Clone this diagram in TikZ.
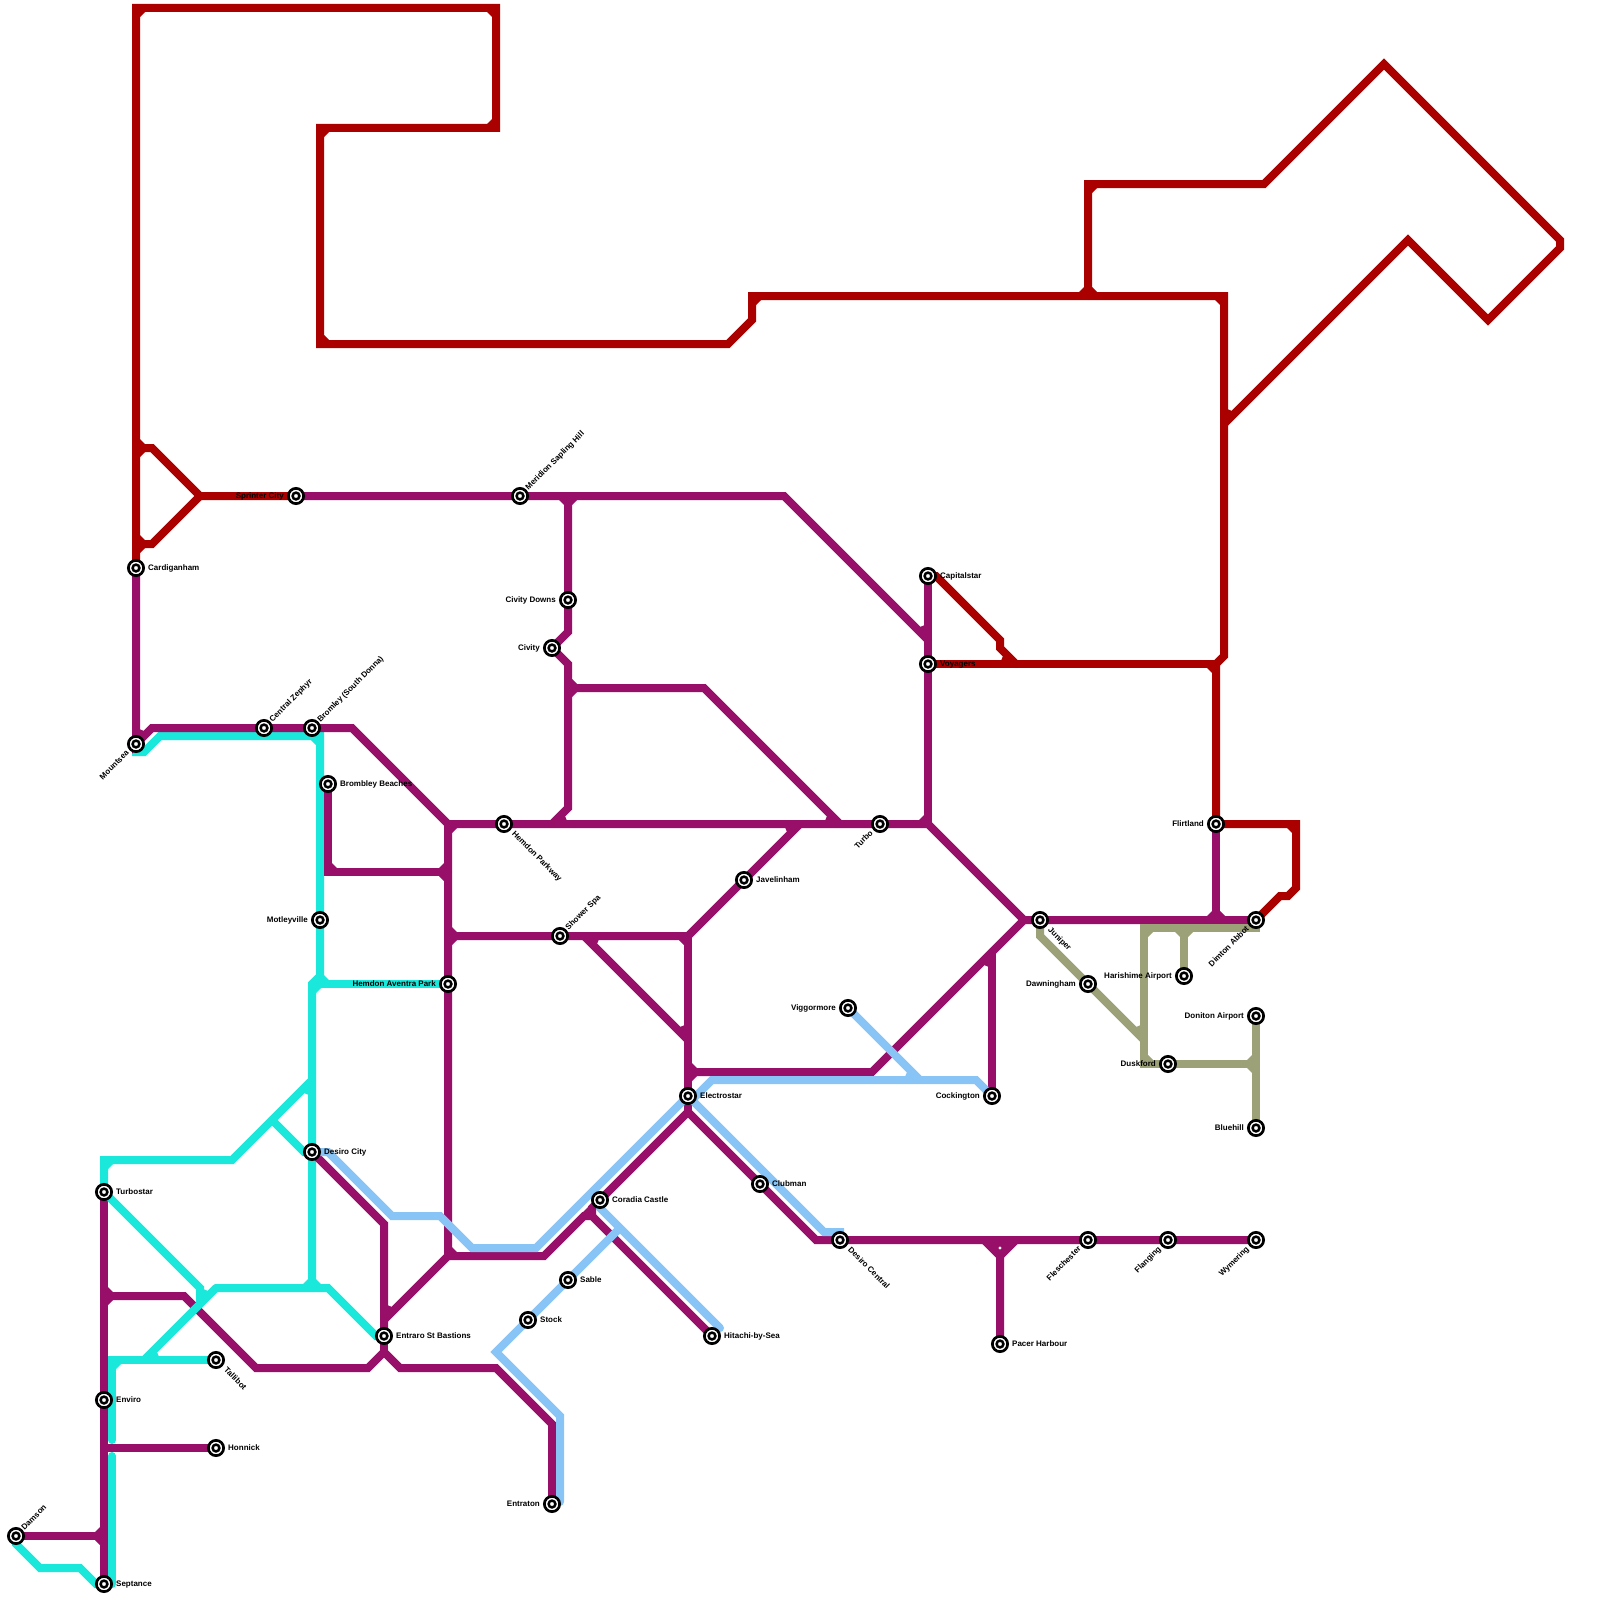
\documentclass[tikz,border=0pt]{standalone}
\usepackage{fontspec}
\setmainfont{Liberation Sans}
\usetikzlibrary{calc}
\definecolor{cRed}{HTML}{AA0000}
\definecolor{cPur}{HTML}{970F69}
\definecolor{cTeal}{HTML}{1AE8DA}
\definecolor{cBlue}{HTML}{88C4F5}
\definecolor{cKhaki}{HTML}{9CA177}
\pgfdeclarelayer{lines}
\pgfsetlayers{lines,main}
\tikzset{
  stn/.style={circle,draw=black,fill=white,line width=2.7pt,minimum size=15.3pt,inner sep=0pt,
    path picture={\draw[black,line width=2.5pt] (path picture bounding box.center) circle (3.4pt);}},
  lbl/.style={font=\bfseries\fontsize{8}{8}\selectfont,text=black,inner sep=0pt,text height=5.8pt,text depth=1.6pt},
  lblE/.style={lbl,anchor=west,xshift=12pt},
  lblW/.style={lbl,anchor=east,xshift=-12pt},
  lblNE/.style={lbl,anchor=west,xshift=7pt,yshift=7pt,rotate=45},
  lblSE/.style={lbl,anchor=west,xshift=9pt,yshift=-9pt,rotate=-45},
  lblSW/.style={lbl,anchor=east,xshift=-8pt,yshift=-8pt,rotate=45},
  route/.style={line width=8pt,line cap=round,line join=miter,miter limit=10},
  rRed/.style={route,draw=cRed},
  rPur/.style={route,draw=cPur},
  rTeal/.style={route,draw=cTeal},
  rBlue/.style={route,draw=cBlue},
  rKhaki/.style={route,draw=cKhaki}
}
% a station: name, x, y, label style, text
\newcommand{\stat}[5]{\node[stn] (#1) at (#2,#3) {}; \node[#4] (#1-label) at (#1.center) {#5};}
% inner chamfer of a junction: colour, x, y, two directions (screen angles, 0 east, 90 south)
\newcommand{\chf}[5]{%
  \pgfmathsetmacro{\mybis}{(#4+#5)/2}%
  \pgfmathsetmacro{\myhf}{abs(#5-#4)/2}%
  \pgfmathsetmacro{\mydd}{4/sin(\myhf)}%
  \fill[#1,shift={(#2,#3)}] (\mybis:\mydd) +(#4:5) -- +(#5:5) -- (0,0) -- cycle;}
\begin{document}
\begin{tikzpicture}[x=1pt,y=-1pt]
\useasboundingbox (0,0) rectangle (1600,1600);
% stations
\stat{Damson}{16}{1536}{lblNE}{Damson}
\stat{Septance}{104}{1584}{lblE}{Septance}
\stat{Enviro}{104}{1400}{lblE}{Enviro}
\stat{Turbostar}{104}{1192}{lblE}{Turbostar}
\stat{Honnick}{216}{1448}{lblE}{Honnick}
\stat{Tallibot}{216}{1360}{lblSE}{Tallibot}
\stat{DesiroCity}{312}{1152}{lblE}{Desiro City}
\stat{Entraro}{384}{1336}{lblE}{Entraro St Bastions}
\stat{Cardiganham}{136}{568}{lblE}{Cardiganham}
\stat{Mountsea}{136}{744}{lblSW}{Mountsea}
\stat{Sprinter}{296}{496}{lblW}{Sprinter City}
\stat{Meridion}{520}{496}{lblNE}{Meridion Sapling Hill}
\stat{CivityDowns}{568}{600}{lblW}{Civity Downs}
\stat{Civity}{552}{648}{lblW}{Civity}
\stat{Zephyr}{264}{728}{lblNE}{Central Zephyr}
\stat{Bromley}{312}{728}{lblNE}{Bromley (South Donna)}
\stat{Brombley}{328}{784}{lblE}{Brombley Beaches}
\stat{HemdonP}{504}{824}{lblSE}{Hemdon Parkway}
\stat{Motleyville}{320}{920}{lblW}{Motleyville}
\stat{HemdonA}{448}{984}{lblW}{Hemdon Aventra Park}
\stat{Shower}{560}{936}{lblNE}{Shower Spa}
\stat{Javelinham}{744}{880}{lblE}{Javelinham}
\stat{Turbo}{880}{824}{lblSW}{Turbo}
\stat{Capitalstar}{928}{576}{lblE}{Capitalstar}
\stat{Voyagers}{928}{664}{lblE}{Voyagers}
\stat{Flirtland}{1216}{824}{lblW}{Flirtland}
\stat{Juniper}{1040}{920}{lblSE}{Juniper}
\stat{Dimton}{1256}{920}{lblSW}{Dimton Abbot}
\stat{Dawningham}{1088}{984}{lblW}{Dawningham}
\stat{Harishime}{1184}{976}{lblW}{Harishime Airport}
\stat{Doniton}{1256}{1016}{lblW}{Doniton Airport}
\stat{Bluehill}{1256}{1128}{lblW}{Bluehill}
\stat{Duskford}{1168}{1064}{lblW}{Duskford}
\stat{Viggormore}{848}{1008}{lblW}{Viggormore}
\stat{Cockington}{992}{1096}{lblW}{Cockington}
\stat{Electrostar}{688}{1096}{lblE}{Electrostar}
\stat{Clubman}{760}{1184}{lblE}{Clubman}
\stat{Coradia}{600}{1200}{lblE}{Coradia Castle}
\stat{Sable}{568}{1280}{lblE}{Sable}
\stat{Stock}{528}{1320}{lblE}{Stock}
\stat{Hitachi}{712}{1336}{lblE}{Hitachi-by-Sea}
\stat{Entraton}{552}{1504}{lblW}{Entraton}
\stat{DesiroC}{840}{1240}{lblSE}{Desiro Central}
\stat{Fleschester}{1088}{1240}{lblSW}{Fleschester}
\stat{Flanging}{1168}{1240}{lblSW}{Flanging}
\stat{Wymering}{1256}{1240}{lblSW}{Wymering}
\stat{Pacer}{1000}{1344}{lblE}{Pacer Harbour}
% junctions
\coordinate (jA) at (448,824);
\coordinate (jB) at (568,496);
\coordinate (jC) at (928,824);
\coordinate (jD) at (688,936);
\coordinate (jE) at (1024,920);
\coordinate (jF) at (1000,1256);
\coordinate (jG) at (200,496);
\coordinate (jH) at (1216,664);
\coordinate (jI) at (1088,296);
\coordinate (jJ) at (688,1112);
\coordinate (jK) at (592,1216);
\coordinate (jL) at (448,1256);
\coordinate (jM) at (384,1352);
\coordinate (jN) at (144,1360);
\coordinate (jO) at (216,1288);
\coordinate (jP) at (312,984);
\begin{pgfonlayer}{lines}
\fill[white] (0,0) rectangle (1600,1600);
% teal
\draw[rTeal] (Damson.center) -- (16,1544) -- (40,1568) -- (80,1568) -- (96,1584) -- (Septance.center);
\draw[rTeal] (Turbostar.center) -- (104,1160) -- (232,1160) -- (312,1080);
\draw[rTeal] (272,1120) -- (304,1152) -- (DesiroCity.center);
\draw[rTeal] (Mountsea.center) -- (136,752) -- (144,752) -- (160,736) -- (320,736) -- (Motleyville.center) -- (320,984);
\draw[rTeal] (320,976) -- (jP) -- (312,1288);
\draw[rTeal] (jP) -- (HemdonA.center);
\draw[rTeal] (Tallibot.center) -- (112,1360) -- (112,1440);
\draw[rTeal] (112,1456) -- (112,1584);
\draw[rTeal] (jO) -- (328,1288) -- (376,1336) -- (Entraro.center);
\chf{cTeal}{104}{1160}{0}{90}
\chf{cTeal}{320}{736}{90}{180}
\chf{cTeal}{312}{984}{0}{90}
\chf{cTeal}{320}{984}{270}{360}
\chf{cTeal}{312}{1080}{90}{135}
\chf{cTeal}{312}{1288}{180}{270}
\chf{cTeal}{312}{1288}{270}{360}
\chf{cTeal}{112}{1360}{0}{90}
\chf{cTeal}{144}{1360}{315}{360}
% purple
\draw[rPur] (Cardiganham.center) -- (Mountsea.center) -- (152,728) -- (Zephyr.center) -- (Bromley.center) -- (352,728) -- (jA) -- (jL) -- (544,1256) -- (584,1216) -- (jK) -- (Hitachi.center);
\draw[rPur] (Sprinter.center) -- (Meridion.center) -- (784,496) -- (928,640);
\draw[rPur] (jB) -- (CivityDowns.center) -- (568,632) -- (Civity.center) -- (568,664) -- (568,808) -- (552,824);
\draw[rPur] (568,688) -- (704,688) -- (840,824);
\draw[rPur] (jA) -- (HemdonP.center) -- (Turbo.center) -- (jC) -- (jE) -- (Juniper.center) -- (Dimton.center);
\draw[rPur] (Capitalstar.center) -- (Voyagers.center) -- (jC);
\draw[rPur] (Flirtland.center) -- (1216,920);
\draw[rPur] (Brombley.center) -- (328,872) -- (448,872);
\draw[rPur] (448,936) -- (Shower.center) -- (jD) -- (Javelinham.center) -- (800,824);
\draw[rPur] (jD) -- (Electrostar.center) -- (jJ);
\draw[rPur] (Coradia.center) -- (jJ) -- (Clubman.center) -- (816,1240) -- (DesiroC.center) -- (Fleschester.center) -- (Flanging.center) -- (Wymering.center);
\draw[rPur] (Coradia.center) -- (592,1208) -- (jK);
\draw[rPur] (584,936) -- (688,1040);
\draw[rPur] (688,1072) -- (872,1072) -- (jE);
\draw[rPur] (992,952) -- (Cockington.center);
\draw[rPur] (Pacer.center) -- (jF) -- (984,1240);
\draw[rPur] (jF) -- (1016,1240);
\draw[rPur] (Turbostar.center) -- (Enviro.center) -- (Septance.center);
\draw[rPur] (104,1296) -- (184,1296) -- (256,1368) -- (368,1368) -- (jM) -- (400,1368) -- (496,1368) -- (552,1424) -- (Entraton.center);
\draw[rPur] (Entraro.center) -- (jM);
\draw[rPur] (DesiroCity.center) -- (384,1224) -- (Entraro.center);
\draw[rPur] (jL) -- (384,1320);
\draw[rPur] (104,1448) -- (Honnick.center);
\draw[rPur] (Damson.center) -- (104,1536);
\chf{cPur}{104}{1296}{270}{360}
\chf{cPur}{104}{1296}{0}{90}
\chf{cPur}{104}{1536}{90}{180}
\chf{cPur}{104}{1536}{180}{270}
\chf{cPur}{136}{744}{270}{315}
\chf{cPur}{448}{824}{0}{90}
\chf{cPur}{448}{872}{90}{180}
\chf{cPur}{448}{872}{180}{270}
\chf{cPur}{328}{872}{270}{360}
\chf{cPur}{448}{936}{270}{360}
\chf{cPur}{448}{936}{0}{90}
\chf{cPur}{568}{496}{90}{180}
\chf{cPur}{568}{496}{0}{90}
\chf{cPur}{568}{688}{270}{360}
\chf{cPur}{568}{688}{0}{90}
\chf{cPur}{552}{824}{315}{360}
\chf{cPur}{840}{824}{180}{225}
\chf{cPur}{800}{824}{135}{180}
\chf{cPur}{928}{640}{225}{270}
\chf{cPur}{928}{824}{180}{270}
\chf{cPur}{688}{936}{90}{180}
\chf{cPur}{584}{936}{0}{45}
\chf{cPur}{688}{1040}{225}{270}
\chf{cPur}{688}{1072}{270}{360}
\chf{cPur}{688}{1072}{0}{90}
\chf{cPur}{384}{1320}{270}{315}
\chf{cPur}{448}{1256}{270}{360}
\chf{cPur}{592}{1216}{180}{270}
\chf{cPur}{992}{952}{90}{135}
\chf{cPur}{1216}{920}{180}{270}
\chf{cPur}{1216}{920}{270}{360}
\fill[cPur] (988,1243) -- (1012,1243) -- (1000,1255) -- cycle;
\fill[white] (1000,1248) circle (1.7);
% teal crossing above purple
\draw[rTeal] (jN) -- (jO);
\draw[rTeal] (Turbostar.center) -- (200,1288) -- (200,1304);
\chf{cTeal}{200}{1304}{270}{315}
% light blue
\draw[rBlue] (DesiroCity.center) -- (328,1152) -- (392,1216) -- (440,1216) -- (472,1248) -- (536,1248) -- (Electrostar.center) -- (696,1096) -- (712,1080) -- (976,1080) -- (Cockington.center);
\draw[rBlue] (Electrostar.center) -- (824,1232) -- (840,1232) -- (DesiroC.center);
\draw[rBlue] (Coradia.center) -- (600,1208) -- (720,1328);
\draw[rBlue] (Viggormore.center) -- (920,1080);
\draw[rBlue] (618,1230) -- (Sable.center) -- (Stock.center) -- (496,1352) -- (560,1416) -- (560,1502);
\chf{cBlue}{920}{1080}{180}{225}
% khaki
\draw[rKhaki] (Juniper.center) -- (1040,936) -- (Dawningham.center) -- (1144,1040);
\draw[rKhaki] (Dimton.center) -- (1256,928) -- (1144,928) -- (1144,1064) -- (Duskford.center) -- (1256,1064);
\draw[rKhaki] (1184,928) -- (Harishime.center);
\draw[rKhaki] (Doniton.center) -- (Bluehill.center);
\chf{cKhaki}{1144}{928}{0}{90}
\chf{cKhaki}{1184}{928}{90}{180}
\chf{cKhaki}{1184}{928}{0}{90}
\chf{cKhaki}{1144}{1040}{225}{270}
\chf{cKhaki}{1144}{1064}{270}{360}
\chf{cKhaki}{1256}{1064}{90}{180}
\chf{cKhaki}{1256}{1064}{180}{270}
% red
\draw[rRed] (Sprinter.center) -- (jG) -- (152,448) -- (136,448);
\draw[rRed] (jG) -- (152,544) -- (136,544);
\draw[rRed] (Cardiganham.center) -- (136,8) -- (496,8) -- (496,128) -- (320,128) -- (320,344) -- (728,344) -- (752,320) -- (752,296) -- (1224,296) -- (1224,656) -- (jH) -- (Flirtland.center);
\draw[rRed] (jH) -- (Voyagers.center);
\draw[rRed] (Capitalstar.center) -- (936,576) -- (1000,640) -- (1000,648) -- (1016,664);
\draw[rRed] (jI) -- (1088,184) -- (1264,184) -- (1384,64) -- (1560,240) -- (1560,248) -- (1488,320) -- (1408,240) -- (1224,424);
\draw[rRed] (Flirtland.center) -- (1296,824) -- (1296,888) -- (1288,896) -- (1280,896) -- (Dimton.center);
\chf{cRed}{136}{8}{0}{90}
\chf{cRed}{496}{8}{90}{180}
\chf{cRed}{496}{128}{180}{270}
\chf{cRed}{320}{128}{0}{90}
\chf{cRed}{320}{344}{270}{360}
\chf{cRed}{136}{448}{270}{360}
\chf{cRed}{136}{448}{0}{90}
\chf{cRed}{136}{544}{270}{360}
\chf{cRed}{136}{544}{0}{90}
\chf{cRed}{752}{296}{0}{90}
\chf{cRed}{1088}{296}{180}{270}
\chf{cRed}{1088}{296}{270}{360}
\chf{cRed}{1088}{184}{0}{90}
\chf{cRed}{1224}{296}{90}{180}
\chf{cRed}{1224}{424}{270}{315}
\chf{cRed}{1216}{664}{90}{180}
\chf{cRed}{1016}{664}{180}{225}
\chf{cRed}{1296}{824}{90}{180}
\end{pgfonlayer}
\end{tikzpicture}
\end{document}
